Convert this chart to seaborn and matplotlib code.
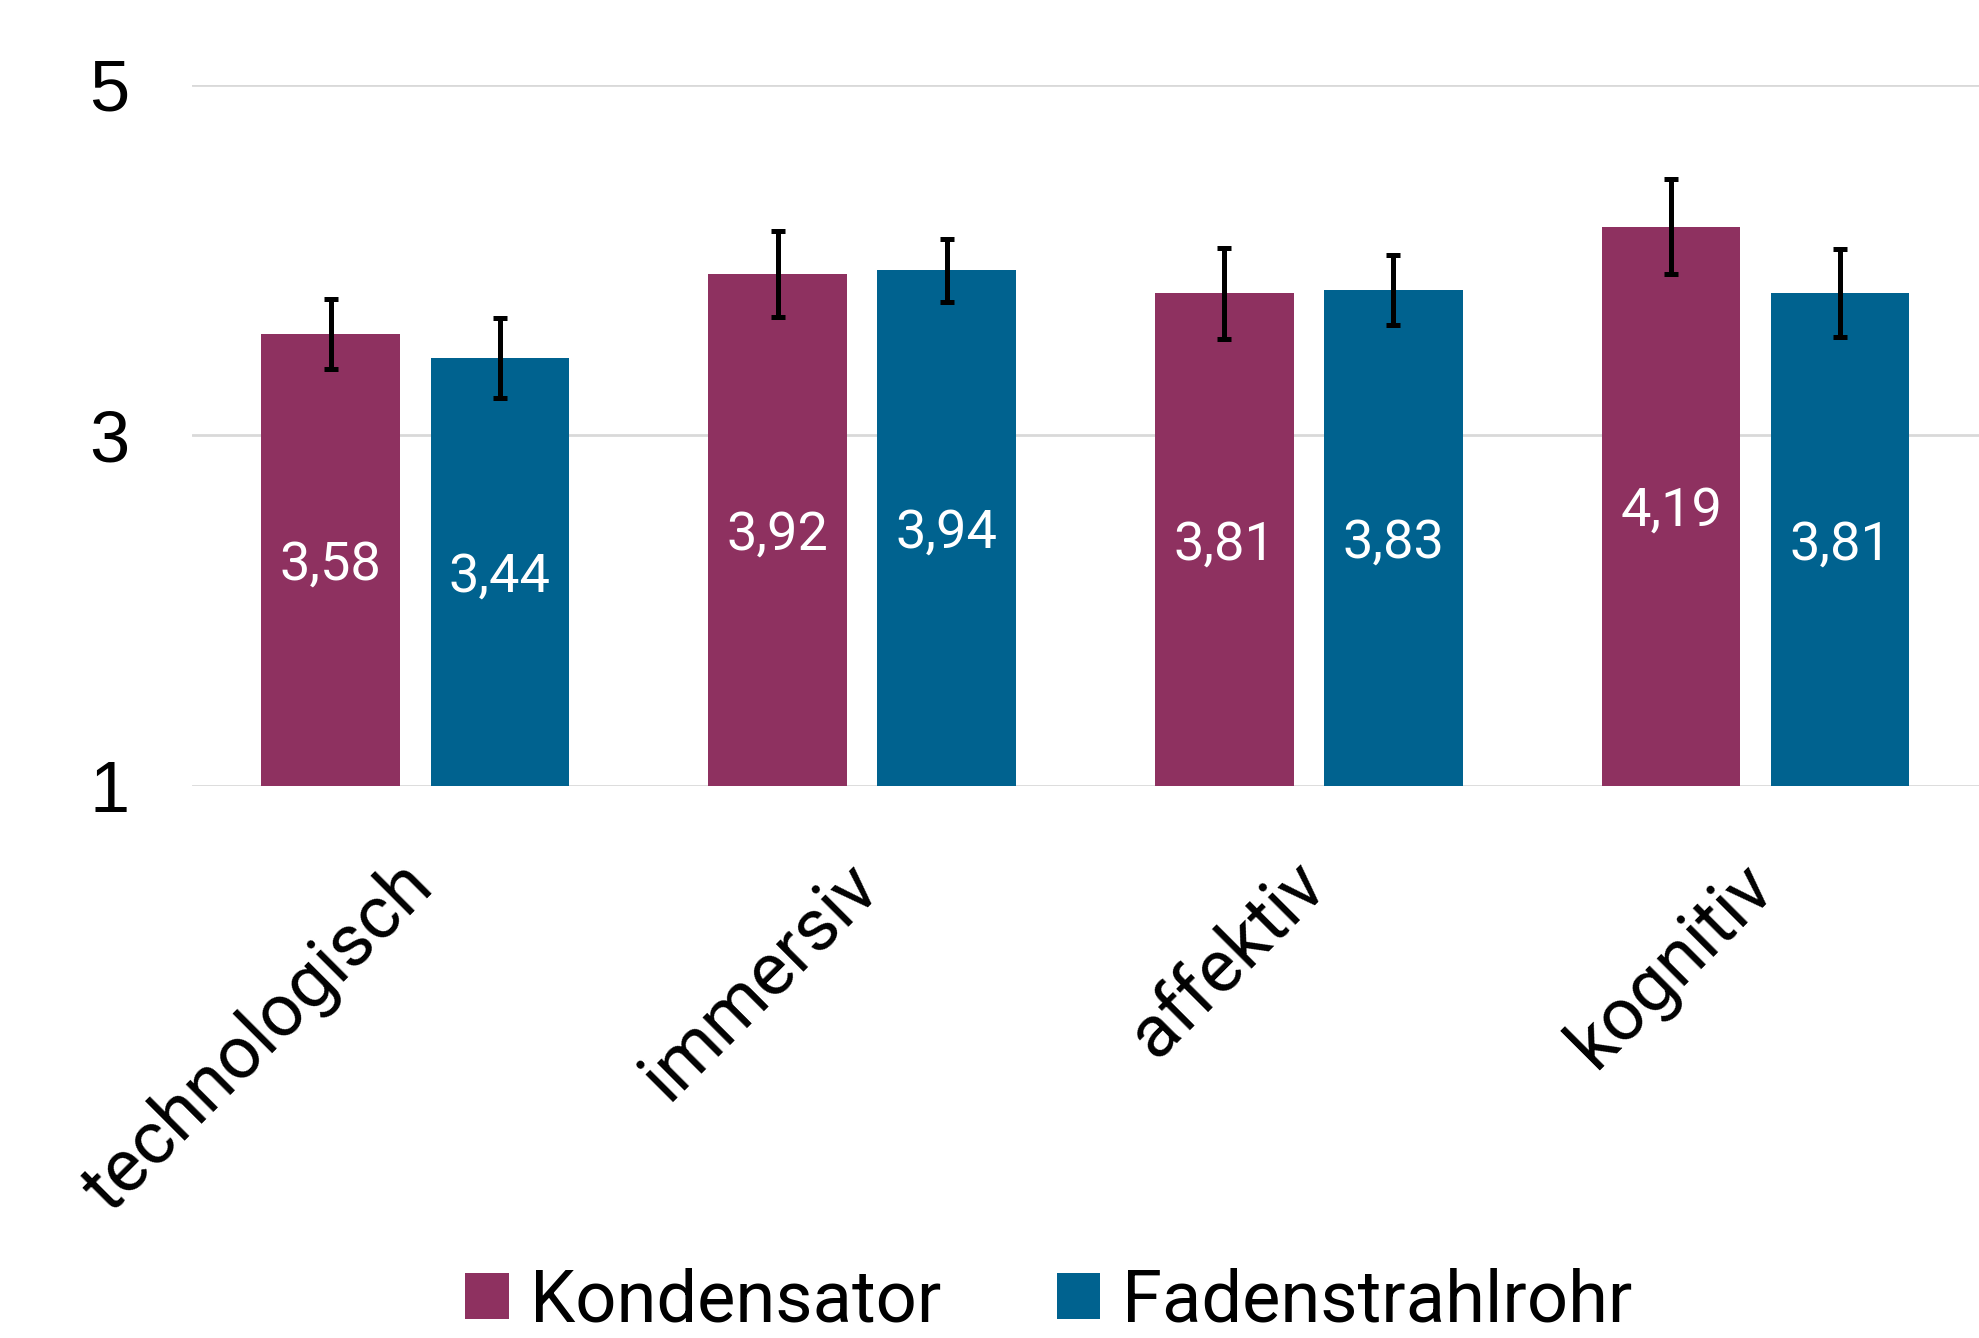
import pandas as pd
import matplotlib.pyplot as plt
import matplotlib.transforms as mtransforms
import seaborn as sns

# Daten
kategorien = ["technologisch", "immersiv", "affektiv", "kognitiv"]
gruppen = ["Kondensator", "Fadenstrahlrohr"]
werte_kondensator = [3.58, 3.92, 3.81, 4.19]
werte_faden = [3.44, 3.94, 3.83, 3.81]
fehler_kondensator = [0.20, 0.245, 0.26, 0.27]
fehler_faden = [0.23, 0.18, 0.20, 0.25]

farben = ["#8E3160", "#00628F"]

df = pd.DataFrame({
    "Kategorie": kategorien * 2,
    "Gruppe": [gruppen[0]] * 4 + [gruppen[1]] * 4,
    "Wert": werte_kondensator + werte_faden,
})
fehler = {gruppen[0]: fehler_kondensator, gruppen[1]: fehler_faden}

sns.set_theme(style="white")
plt.rcParams['font.family'] = ['Roboto', 'DejaVu Sans']
plt.rcParams['text.color'] = 'black'
plt.rcParams['xtick.color'] = 'black'
plt.rcParams['ytick.color'] = 'black'

fig = plt.figure(figsize=(19.79, 13.38), dpi=100)
ax = fig.add_axes([0.097, 0.4125, 0.903, 0.5243])

sns.barplot(data=df, x="Kategorie", y="Wert", hue="Gruppe", order=kategorien,
            hue_order=gruppen, palette=farben, width=0.757, gap=0.18,
            saturation=1, errorbar=None, ax=ax, legend=True, linewidth=0)

# Balken beginnen bei 1 -> Achse von 1 bis 5
ax.set_ylim(1, 5)
ax.set_xlim(-0.5, 3.5)

# Fehlerbalken + Wertbeschriftung
text_versatz = ax.transData + mtransforms.ScaledTranslation(0, -0.05, fig.dpi_scale_trans)
for container, gruppe in zip(ax.containers, gruppen):
    xs = [b.get_x() + b.get_width() / 2 for b in container]
    ys = [b.get_height() for b in container]
    ax.errorbar(xs, ys, yerr=fehler[gruppe], fmt="none", ecolor="black",
                elinewidth=3.6, capsize=5, capthick=3.6, zorder=5)
    for x, y in zip(xs, ys):
        ax.text(x, (1 + y) / 2, f"{y:.2f}".replace(".", ","), color="white",
                ha="center", va="center", fontsize=39, transform=text_versatz)

ax.set_yticks([1, 3, 5])
ax.set_yticklabels(["1", "3", "5"], fontsize=52,
                   family=["Liberation Sans", "DejaVu Sans"])
ax.tick_params(axis="y", length=0, pad=45)
ax.tick_params(axis="x", length=0, pad=20)
versatz = mtransforms.ScaledTranslation(-0.19, -0.35, fig.dpi_scale_trans)
for lbl in ax.get_xticklabels():
    lbl.set_rotation(45)
    lbl.set_ha("right")
    lbl.set_va("top")
    lbl.set_rotation_mode("anchor")
    lbl.set_fontsize(53)
    lbl.set_transform(lbl.get_transform() + versatz)
ax.yaxis.grid(True, color="#d9d9d9", linewidth=2)
ax.set_axisbelow(True)
for s in ax.spines.values():
    s.set_visible(False)
ax.set_xlabel("")
ax.set_ylabel("")

handles, labels = ax.get_legend_handles_labels()
ax.get_legend().remove()
fig.legend(handles, labels, loc="center", bbox_to_anchor=(0.53, 0.027), ncol=2,
           frameon=False, fontsize=52, handlelength=0.6, handleheight=0.6,
           handletextpad=0.3, columnspacing=1.6)

plt.savefig("out.png", dpi=100)
